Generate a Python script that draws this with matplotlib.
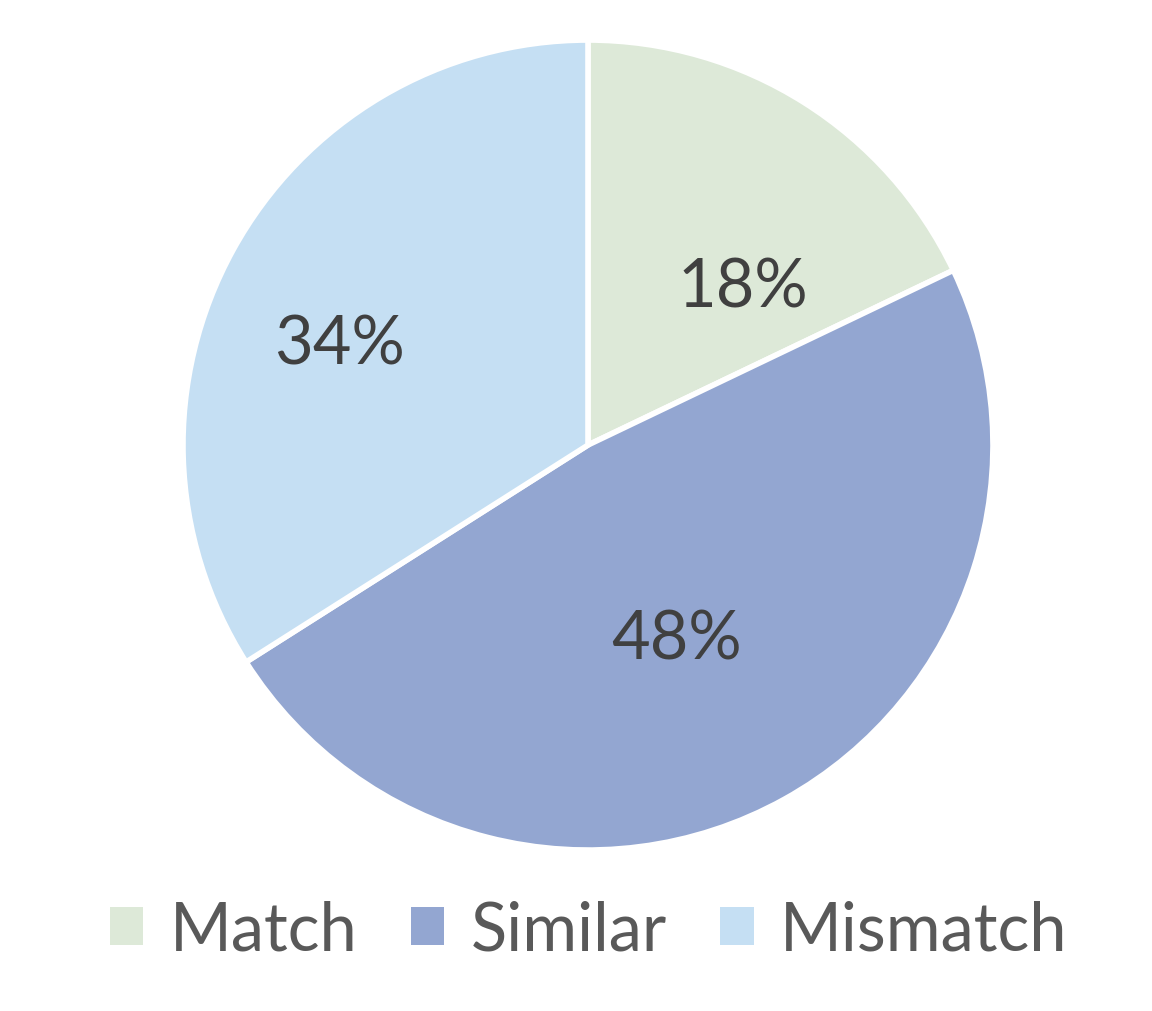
import matplotlib
matplotlib.use("Agg")
import matplotlib.pyplot as plt
import numpy as np
from matplotlib.patches import Patch

categories = ["Match", "Similar", "Mismatch"]
values = [17.9, 48.1, 34.0]
pct_labels = ["18%", "48%", "34%"]
colors = ["#DDE9D8", "#93A6D1", "#C5DFF3"]

plt.rcParams['font.family'] = ['Lato', 'DejaVu Sans']

fig = plt.figure(figsize=(11.52, 10.11), dpi=100)
w_ax, h_ax = 0.7031, 0.8012
ax = fig.add_axes([0.5104 - w_ax / 2, 0.5598 - h_ax / 2, w_ax, h_ax])
wedges, _ = ax.pie(values, colors=colors, startangle=90, counterclock=False,
                   wedgeprops=dict(edgecolor="white", linewidth=4))
ax.set_xlim(-1, 1)
ax.set_ylim(-1, 1)
ax.set_aspect('equal')

# label placement (angle offset in degrees, radial fraction) approximating the best-fit layout
label_pos = [(-12.5, 0.545), (-4.5, 0.53), (7, 0.66)]
for w, lab, (dang, r) in zip(wedges, pct_labels, label_pos):
    ang = np.deg2rad((w.theta1 + w.theta2) / 2 + dang)
    ax.text(r * np.cos(ang), r * np.sin(ang), lab, ha='center', va='center',
            fontsize=48, color='#404040')

handles = [Patch(facecolor=c, edgecolor='none') for c in colors]
fig.legend(handles, categories, loc='center', bbox_to_anchor=(0.511, 0.079),
           ncol=3, frameon=False, fontsize=48, labelcolor='#595959',
           handlelength=0.5, handleheight=0.5, handletextpad=0.4, columnspacing=0.8)

fig.savefig("out.png", dpi=100)
